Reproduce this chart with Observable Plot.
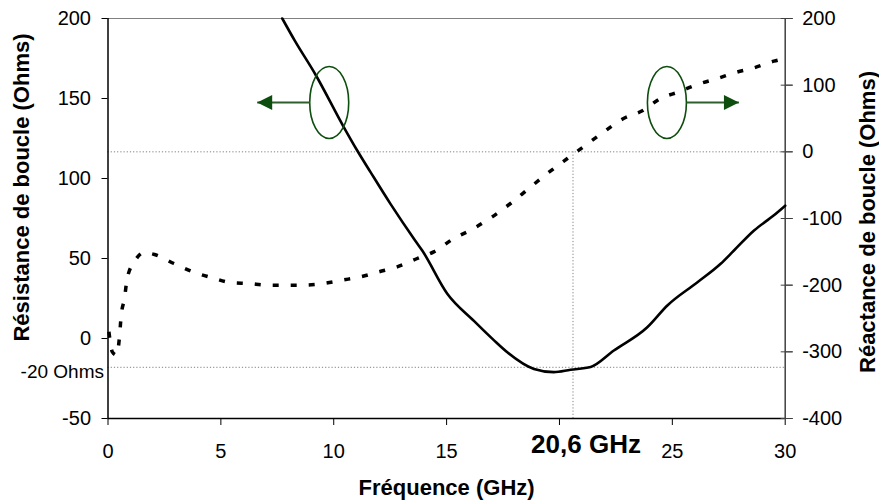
<!DOCTYPE html>
<html><head><meta charset="utf-8">
<script src="https://cdn.jsdelivr.net/npm/d3@7"></script>
<script src="https://cdn.jsdelivr.net/npm/@observablehq/plot@0.6"></script>
<style>
body{margin:0;background:#fff}
#chart svg{font-family:"Liberation Sans",Arial,sans-serif;background:#fff}
</style>
</head><body><div id="chart"></div>
<script>
// Résistance de boucle (left axis, Ohms) vs fréquence (GHz)
const resFreq = [7.72,8.28,9.19,10.45,11.04,11.63,12.52,13.62,13.92,15.03,16.21,17.09,17.69,18.87,19.75,20.49,21.38,22.41,23.89,24.78,26.1,27.14,27.73,28.62,29.5,30];
const resistance = [200,186,165,132,117.5,104,84,61,55,28,11,-1,-8.6,-19,-21,-19.5,-17.8,-7.5,7,20.6,35,46.7,55,67.5,77,83];
// Réactance de boucle (right axis, Ohms)
const reaFreq = [0.04,0.19,0.38,0.51,0.58,0.73,0.85,1.22,1.59,2.06,2.92,3.76,4.62,5.43,6.24,7.05,7.94,8.68,9.56,10.38,11.19,12.0,12.81,13.7,14.43,15.32,16.14,17.02,17.83,18.64,19.46,20.35,21.16,21.97,22.78,23.67,24.48,25.29,26.1,26.99,27.8,28.62,29.5,30];
const reactance = [-270,-300,-305,-277,-247,-220,-190,-162,-151,-154,-167.5,-180,-189,-196,-197.5,-200,-200,-200,-197.5,-192.5,-187.5,-180,-172.5,-160,-150,-130,-116,-97.5,-77.5,-55,-32.5,-10,10,30,49,61.5,80,90,101,110,119,126,136,140];
// ticks
const xTicks = [0,5,10,15,20,25,30];
const xTickLabels = ["0","5","10","15","","25","30"];
const leftTicks = [-50,0,50,100,150,200];
const rightTicks = [-400,-300,-200,-100,0,100,200];
// annotations
const resonanceFreq = [20.6];
const resonanceLabel = ["20,6 GHz"];
const minResLevel = [-18];
const minResLabel = ["-20 Ohms"];
const reactanceZero = [0];
// ellipse markers (GHz, left-axis Ohms) and arrows
const ellipseFreq = [9.8, 24.76];
const ellipseLevel = [147.5, 147.5];
const arrowFrom = [8.94, 25.63];
const arrowTo = [6.61, 27.95];

const leftDomain = [-50, 200];
const rightDomain = [-400, 200];
const toLeft = v => leftDomain[0] + (v - rightDomain[0]) * (leftDomain[1]-leftDomain[0]) / (rightDomain[1]-rightDomain[0]);

const resData = resFreq.map((f,i) => ({f, v: resistance[i]}));
const reaData = reaFreq.map((f,i) => ({f, v: toLeft(reactance[i])}));
const ellipses = ellipseFreq.map((f,i) => ({f, v: ellipseLevel[i]}));
const arrows = arrowFrom.map((f,i) => ({x1: f, x2: arrowTo[i], y: ellipseLevel[i], dir: i === 0 ? "left" : "right"}));

const green = "#0d4d0d";
const ellipseSymbol = {draw(ctx){ const rx=19.5, ry=36, k=0.5523, kx=rx*k, ky=ry*k;
  ctx.moveTo(rx,0); ctx.bezierCurveTo(rx,ky,kx,ry,0,ry); ctx.bezierCurveTo(-kx,ry,-rx,ky,-rx,0);
  ctx.bezierCurveTo(-rx,-ky,-kx,-ry,0,-ry); ctx.bezierCurveTo(kx,-ry,rx,-ky,rx,0); ctx.closePath(); }};
const headLeft = {draw(ctx){ ctx.moveTo(0,0); ctx.lineTo(15,-7.5); ctx.lineTo(15,7.5); ctx.closePath(); }};
const headRight = {draw(ctx){ ctx.moveTo(0,0); ctx.lineTo(-15,-7.5); ctx.lineTo(-15,7.5); ctx.closePath(); }};

const rightTickPos = rightTicks.map(toLeft);

const chart = Plot.plot({
  width: 879, height: 500,
  marginLeft: 107.5, marginRight: 94.3, marginTop: 18, marginBottom: 82,
  style: {fontSize: "20px", fontFamily: "'Liberation Sans', Arial, sans-serif", color: "#000", background: "#fff"},
  x: {domain: [0, 30]},
  y: {domain: leftDomain},
  marks: [
    // dotted guides
    Plot.ruleY(reactanceZero.map(toLeft), {x1: 0, x2: 30, stroke: "#808080", strokeDasharray: "1.2,2", strokeWidth: 1}),
    Plot.ruleY(minResLevel, {x1: 0, x2: 30, stroke: "#808080", strokeDasharray: "1.2,2", strokeWidth: 1}),
    Plot.ruleX(resonanceFreq, {y1: toLeft(0), y2: -50, stroke: "#808080", strokeDasharray: "1.2,2", strokeWidth: 1}),
    // frame
    Plot.ruleY([200], {stroke: "#808080", strokeWidth: 1.2}),
    Plot.ruleX([30], {stroke: "#404040", strokeWidth: 1.5}),
    Plot.ruleX([0], {stroke: "#000", strokeWidth: 1.5}),
    Plot.ruleY([-50], {stroke: "#000", strokeWidth: 1.5}),
    // axes
    Plot.axisX({ticks: xTicks, tickFormat: d => xTickLabels[xTicks.indexOf(d)], tickSize: 7, tickPadding: 18, label: null, fontSize: 20}),
    Plot.axisY({anchor: "left", ticks: leftTicks, tickFormat: d => String(d), tickSize: 6, tickPadding: 11, label: null, fontSize: 20}),
    Plot.axisY({anchor: "right", ticks: rightTickPos, tickFormat: d => String(rightTicks[rightTickPos.indexOf(d)]), tickSize: 7, tickPadding: 10, label: null, fontSize: 20, stroke: "#404040"}),
    Plot.axisY({anchor: "right", ticks: rightTickPos, tickFormat: () => "", tickSize: 12, dx: -5, label: null, stroke: "#404040"}),
    // data
    Plot.line(reaData, {x: "f", y: "v", stroke: "#000", strokeWidth: 3.5, strokeDasharray: "6,12", strokeLinecap: "butt", curve: "monotone-x"}),
    Plot.line(resData, {x: "f", y: "v", stroke: "#000", strokeWidth: 2.6, curve: "monotone-x"}),
    // annotation ellipses and arrows
    Plot.dot(ellipses, {x: "f", y: "v", symbol: ellipseSymbol, r: 20, stroke: green, strokeWidth: 1.6, fill: "none"}),
    Plot.link(arrows, {x1: "x1", x2: "x2", y1: "y", y2: "y", stroke: "#2e5e2e", strokeWidth: 2}),
    Plot.dot(arrows.filter(d => d.dir === "left"), {x: "x2", y: "y", symbol: headLeft, r: 8, fill: green, stroke: "none"}),
    Plot.dot(arrows.filter(d => d.dir === "right"), {x: "x2", y: "y", symbol: headRight, r: 8, fill: green, stroke: "none"}),
    // labels
    Plot.text(minResLabel, {x: 0, y: minResLevel[0], text: d => d, textAnchor: "end", dx: -4, dy: 5, fontSize: 19}),
    Plot.text(resonanceLabel, {x: resonanceFreq[0], y: -50, text: d => d, dx: 13, dy: 26, fontSize: 26, fontWeight: "bold", letterSpacing: "1.4px"}),
    Plot.text(["Fréquence (GHz)"], {frameAnchor: "bottom", text: d => d, textAnchor: "middle", lineAnchor: "middle", dy: 69, fontSize: 22, fontWeight: "bold", letterSpacing: "0.6px"}),
    Plot.text(["Résistance de boucle (Ohms)"], {frameAnchor: "left", text: d => d, textAnchor: "middle", lineAnchor: "middle", rotate: -90, dx: -86.5, dy: -31, fontSize: 22, fontWeight: "bold"}),
    Plot.text(["Réactance de boucle (Ohms)"], {frameAnchor: "right", text: d => d, textAnchor: "middle", lineAnchor: "middle", rotate: -90, dx: 83, dy: 3.5, fontSize: 22, fontWeight: "bold"})
  ]
});
document.getElementById("chart").appendChild(chart);
</script>
</body></html>
